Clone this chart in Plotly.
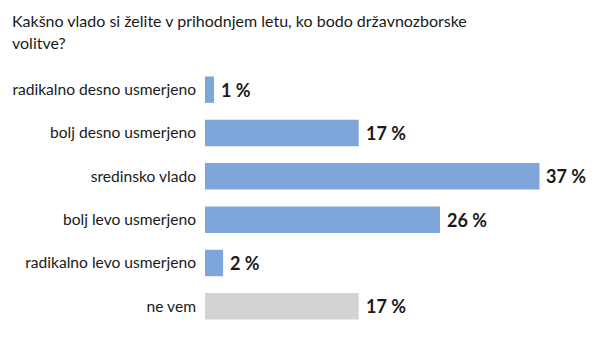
import plotly.graph_objects as go

categories = ["radikalno desno usmerjeno", "bolj desno usmerjeno", "sredinsko vlado",
              "bolj levo usmerjeno", "radikalno levo usmerjeno", "ne vem"]
values = [1, 17, 37, 26, 2, 17]
colors = ["#7EA6DA", "#7EA6DA", "#7EA6DA", "#7EA6DA", "#7EA6DA", "#D2D3D5"]
title_lines = ["Kakšno vlado si želite v prihodnjem letu, ko bodo državnozborske",
               "volitve?"]

FONT = "Lato"
W, H = 599, 360
L, T, B, R = 197, 60, 40, 0
PW, PH = W - L - R, H - T - B
PX_PER_PCT = 9.04

fig = go.Figure(go.Bar(
    y=categories, x=values, orientation="h",
    marker=dict(color=colors, line=dict(width=0)),
    width=0.61,
    hoverinfo="skip",
))

for cat, v in zip(categories, values):
    fig.add_annotation(
        x=v, y=cat, xref="x", yref="y", text=f"{v} %",
        xanchor="left", yanchor="middle", xshift=5, yshift=0, showarrow=False,
        font=dict(family=FONT, size=18, color="#1a1a1a", weight="bold"),
    )

for line, cy in zip(title_lines, [12, 35]):
    fig.add_annotation(
        text=line, xref="paper", yref="paper",
        x=(2 - L) / PW, y=(H - B - cy) / PH, xanchor="left", yanchor="middle",
        align="left", showarrow=False,
        font=dict(family=FONT, size=16, color="#1a1a1a"),
    )

fig.update_layout(
    width=W, height=H,
    margin=dict(l=L, r=R, t=T, b=B, autoexpand=False),
    paper_bgcolor="white", plot_bgcolor="white",
    showlegend=False,
    font=dict(family=FONT, color="#1a1a1a"),
    xaxis=dict(range=[0, PW / PX_PER_PCT], visible=False, showgrid=False, zeroline=False,
               automargin=False),
    yaxis=dict(autorange="reversed", showgrid=False, zeroline=False, showline=False,
               ticks="", ticklabelstandoff=8, automargin=False,
               tickfont=dict(family=FONT, size=15.6, color="#1a1a1a")),
)

fig.write_html("out.html")
